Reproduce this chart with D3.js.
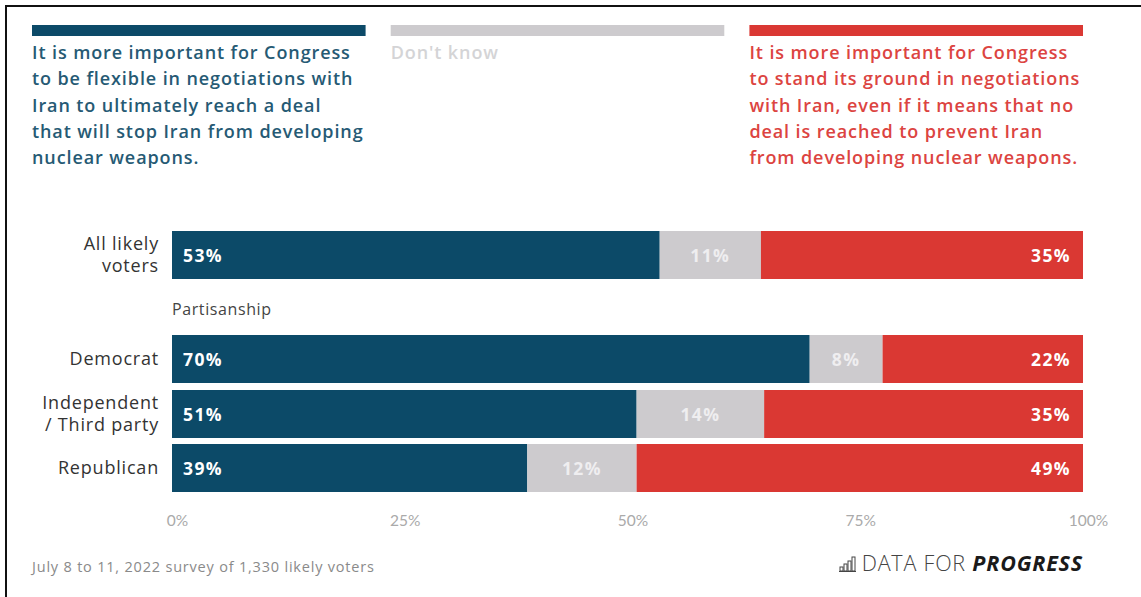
<!DOCTYPE html>
<html>
<head>
<meta charset="utf-8">
<script src="https://cdn.jsdelivr.net/npm/d3@7"></script>
<style>
  body { margin: 0; background: #fff; }
  svg { display: block; font-family: "Open Sans", Lato, sans-serif; }
</style>
</head>
<body>
<div id="chart"></div>
<script>
// data
var groups = ["All likely voters", "Democrat", "Independent / Third party", "Republican"];
var groupLines = [["All likely", "voters"], ["Democrat"], ["Independent", "/ Third party"], ["Republican"]];
var flexible = [53, 70, 51, 39];
var dontKnow = [11, 8, 14, 12];
var standGround = [35, 22, 35, 49];
var ticks = [0, 25, 50, 75, 100];

var legendItems = [
  {key: "flexible", lines: ["It is more important for Congress", "to be flexible in negotiations with",
     "Iran to ultimately reach a deal", "that will stop Iran from developing", "nuclear weapons."]},
  {key: "dontKnow", lines: ["Don't know"]},
  {key: "standGround", lines: ["It is more important for Congress", "to stand its ground in negotiations",
     "with Iran, even if it means that no", "deal is reached to prevent Iran", "from developing nuclear weapons."]}
];

var keys = ["flexible", "dontKnow", "standGround"];
var barColor = {flexible: "#0c4a68", dontKnow: "#cdcbce", standGround: "#da3833"};
var textColor = {flexible: "#265a74", dontKnow: "#d4d4d6", standGround: "#dc4441"};

var W = 1141, H = 597;
var svg = d3.select("#chart").append("svg")
    .attr("width", W)
    .attr("height", H);

// frame lines top / left
svg.append("line").attr("x1", 5).attr("y1", 6).attr("x2", W).attr("y2", 6)
   .attr("stroke", "#111").attr("stroke-width", 2);
svg.append("line").attr("x1", 6).attr("y1", 5).attr("x2", 6).attr("y2", H)
   .attr("stroke", "#111").attr("stroke-width", 2);

// legend
var legendX = d3.scaleBand().domain(keys).range([32, 1083]).paddingInner(0.07);
legendItems.forEach(function(item) {
  var x0 = legendX(item.key);
  svg.append("rect")
     .attr("x", x0).attr("y", 25)
     .attr("width", legendX.bandwidth()).attr("height", 11)
     .attr("fill", barColor[item.key]);
  var t = svg.append("text")
     .attr("x", x0).attr("y", 59)
     .attr("fill", textColor[item.key])
     .attr("font-size", 18)
     .attr("letter-spacing", 0.9)
     .attr("font-weight", 600);
  item.lines.forEach(function(l, i) {
    t.append("tspan").attr("x", x0).attr("dy", i == 0 ? 0 : 26.3).text(l);
  });
});

// rows
var rows = groups.map(function(g, i) {
  return {group: g, flexible: flexible[i], dontKnow: dontKnow[i], standGround: standGround[i]};
});
var stack = d3.stack().keys(keys).offset(d3.stackOffsetExpand);
var series = stack(rows);

var x = d3.scaleLinear().domain([0, 1]).range([172, 1083]);
var rowTop = {"All likely voters": 231, "Democrat": 335, "Independent / Third party": 390, "Republican": 444};
var y = function(g) { return rowTop[g]; };
var barH = 48;

var layer = svg.selectAll("g.layer").data(series).enter().append("g")
   .attr("class", "layer")
   .attr("fill", function(d) { return barColor[d.key]; });

layer.selectAll("rect").data(function(d) { return d; }).enter().append("rect")
   .attr("x", function(d) { return x(d[0]); })
   .attr("y", function(d) { return y(d.data.group); })
   .attr("width", function(d) { return x(d[1]) - x(d[0]); })
   .attr("height", barH);

// value labels
series.forEach(function(s) {
  svg.selectAll(null).data(s).enter().append("text")
     .attr("x", function(d) {
       if (s.key == "flexible") return x(d[0]) + 11;
       if (s.key == "standGround") return x(d[1]) - 12;
       return (x(d[0]) + x(d[1])) / 2;
     })
     .attr("y", function(d) { return y(d.data.group) + barH / 2 + 6.5; })
     .attr("text-anchor", s.key == "flexible" ? "start" : s.key == "standGround" ? "end" : "middle")
     .attr("fill", s.key == "dontKnow" ? "#efeef0" : "#fff")
     .attr("font-size", 17.5)
     .attr("letter-spacing", 1.4)
     .attr("font-weight", 700)
     .text(function(d) { return d.data[s.key] + "%"; });
});

// category labels
groups.forEach(function(g, i) {
  var lines = groupLines[i];
  var t = svg.append("text")
     .attr("text-anchor", "end")
     .attr("fill", "#333")
     .attr("font-size", 18)
     .attr("letter-spacing", 0.8)
     .attr("y", y(g) + barH / 2 + 6 - (lines.length - 1) * 11);
  lines.forEach(function(l, j) {
    t.append("tspan").attr("x", 159).attr("dy", j == 0 ? 0 : 22).text(l);
  });
});

svg.append("text").attr("x", 172).attr("y", 315)
   .attr("fill", "#444").attr("font-size", 16)
   .attr("letter-spacing", 0.6)
   .text("Partisanship");

// axis
var xAxis = d3.axisBottom(d3.scaleLinear().domain([0, 100]).range([172, 1083]))
   .tickValues(ticks)
   .tickSize(0)
   .tickPadding(0)
   .tickFormat(function(d) { return d + "%"; });
var ax = svg.append("g").attr("transform", "translate(5,515)").call(xAxis);
ax.select(".domain").remove();
ax.selectAll("text").attr("fill", "#aaa").attr("font-size", 15.5)
   .attr("font-family", "Lato, sans-serif");

// footer
svg.append("text").attr("x", 32).attr("y", 572)
   .attr("fill", "#8a8a8a").attr("font-size", 14.5)
   .attr("letter-spacing", 0.8)
   .text("July 8 to 11, 2022 survey of 1,330 likely voters");

var logo = svg.append("text").attr("x", 1083).attr("y", 571)
   .attr("text-anchor", "end").attr("font-size", 21.5)
   .attr("letter-spacing", 0.8);
logo.append("tspan").attr("fill", "#444").attr("font-weight", 300).text("DATA FOR ");
logo.append("tspan").attr("fill", "#1a1a1a").attr("font-weight", 700)
   .attr("font-style", "italic").text("PROGRESS");

// logo icon
var iconBars = [4, 7, 10, 14];
var icon = svg.append("g").attr("transform", "translate(840,571)");
icon.selectAll("rect").data(iconBars).enter().append("rect")
   .attr("x", function(d, i) { return i * 4; })
   .attr("y", function(d) { return -d; })
   .attr("width", 3).attr("height", function(d) { return d; })
   .attr("fill", "none").attr("stroke", "#444").attr("stroke-width", 1);
icon.append("line").attr("x1", -1).attr("x2", 16).attr("y1", 0.5).attr("y2", 0.5)
   .attr("stroke", "#444");
</script>
</body>
</html>
